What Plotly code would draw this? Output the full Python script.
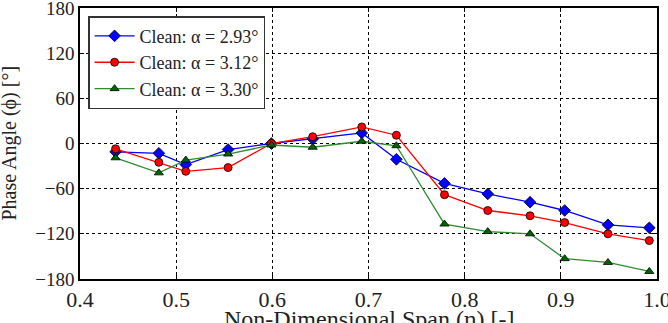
import plotly.graph_objects as go

span = [0.437, 0.482, 0.510, 0.554, 0.599, 0.642, 0.693, 0.729, 0.779, 0.824, 0.868, 0.904, 0.949, 0.992]
phase_293 = [-11, -13, -28, -8, 0, 6, 14, -21, -53, -67, -78, -89, -108, -112]
phase_312 = [-7, -25, -37, -32, 0, 9, 22, 11, -68, -89, -96, -105, -120, -129]
phase_330 = [-19, -39, -22, -14, -2, -5, 3, -3, -107, -117, -120, -153, -158, -170]
names = ["Clean: α = 2.93°", "Clean: α = 3.12°", "Clean: α = 3.30°"]
xticks = [0.4, 0.5, 0.6, 0.7, 0.8, 0.9, 1.0]
xtick_text = ["0.4", "0.5", "0.6", "0.7", "0.8", "0.9", "1.0"]
yticks = [-180, -120, -60, 0, 60, 120, 180]
ytick_text = ["−180", "−120", "−60", "0", "60", "120", "180"]
xtitle = "Non-Dimensional Span (η) [-]"
ytitle = "Phase Angle (ϕ) [°]"

font = "Liberation Serif"
tc = "#222"
fig = go.Figure()
series = [
    (phase_293, "blue", "blue", "diamond", 9),
    (phase_312, "red", "red", "circle", 8),
    (phase_330, "#2e8b2e", "#006400", "triangle-up", 8),
]
for (vals, col, mcol, sym, sz), nm in zip(series, names):
    fig.add_trace(go.Scatter(
        x=span, y=vals, name=nm, mode="lines+markers",
        line=dict(color=col, width=1.3),
        marker=dict(symbol=sym, size=sz, color=mcol,
                    line=dict(color="black", width=0.8)),
    ))

axis_common = dict(
    showline=True, linecolor="black", linewidth=1.5, mirror="ticks",
    ticks="inside", ticklen=4, tickcolor="black",
    showgrid=True, gridcolor="black", griddash="dot", gridwidth=1,
    zeroline=False, automargin=False, ticklabeloverflow="allow",
)
fig.update_xaxes(range=[0.4, 1.0], tickvals=xticks, ticktext=xtick_text,
                 tickfont=dict(family=font, size=22, color=tc), **axis_common)
fig.update_yaxes(range=[-180, 180], tickvals=yticks, ticktext=ytick_text,
                 tickfont=dict(family=font, size=19, color=tc), **axis_common)
fig.add_annotation(text=xtitle, xref="paper", yref="paper", x=0.5, y=-0.092,
                   xanchor="center", yanchor="top", showarrow=False,
                   font=dict(family=font, size=24, color=tc))
fig.add_annotation(text=ytitle, xref="paper", yref="paper", x=-0.123, y=0.5,
                   xanchor="center", yanchor="middle", showarrow=False, textangle=-90,
                   font=dict(family=font, size=20, color=tc))
fig.update_layout(
    width=668, height=323,
    margin=dict(l=80, r=11, t=8, b=44, autoexpand=False),
    paper_bgcolor="white", plot_bgcolor="white",
    font=dict(family=font, color=tc),
    legend=dict(x=0.014, y=0.97, xanchor="left", yanchor="top",
                bgcolor="white", bordercolor="#333", borderwidth=1.5,
                font=dict(family=font, size=18, color=tc),
                tracegroupgap=0, itemwidth=40),
    showlegend=True,
)
fig.write_html("out.html")
